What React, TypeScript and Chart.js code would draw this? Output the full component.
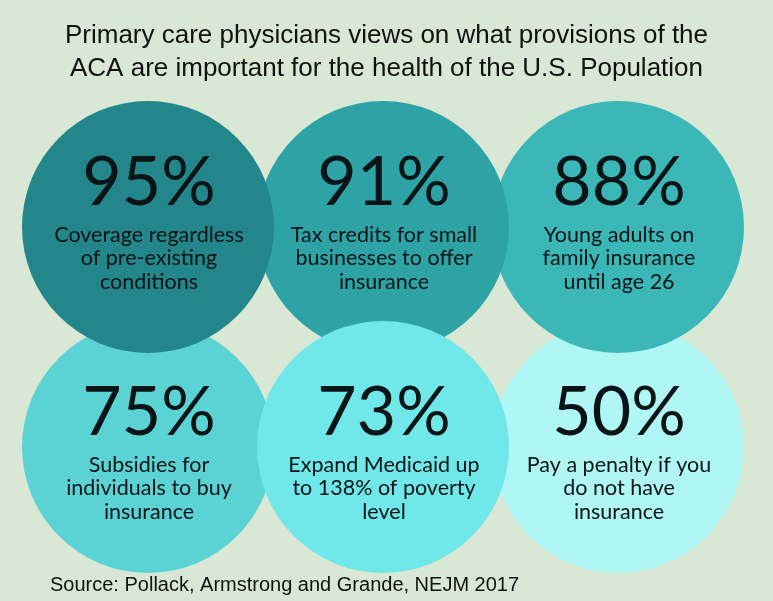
import React, { useEffect, useRef } from 'react';
import { Chart, registerables } from 'chart.js';

Chart.register(...registerables);

const titleLines = [
  'Primary care physicians views on what provisions of the',
  'ACA are important for the health of the U.S. Population',
];
const sourceText = 'Source: Pollack, Armstrong and Grande, NEJM 2017';

const percents = [95, 91, 88, 75, 73, 50];
const provisions = [
  ['Coverage regardless', 'of pre-existing', 'conditions'],
  ['Tax credits for small', 'businesses to offer', 'insurance'],
  ['Young adults on', 'family insurance', 'until age 26'],
  ['Subsidies for', 'individuals to buy', 'insurance'],
  ['Expand Medicaid up', 'to 138% of poverty', 'level'],
  ['Pay a penalty if you', 'do not have', 'insurance'],
];
const gridColumn = [0, 1, 2, 0, 1, 2];
const gridRow = [0, 0, 0, 1, 1, 1];

// styles
const circleColors = ['#23868a', '#2ea3a5', '#3bb7b8', '#5bd3d4', '#70e7e8', '#aff6f4'];
const drawOrder = [5, 2, 3, 1, 0, 4];
const BG = '#d8e8d4';
const TEXT = '#081416';
const CIRCLE_R = 126;

const circleTextPlugin = {
  id: 'circleText',
  beforeDraw(chart: any) {
    const { ctx, width, height } = chart;
    ctx.save();
    ctx.fillStyle = BG;
    ctx.fillRect(0, 0, width, height);
    ctx.restore();
  },
  afterDatasetsDraw(chart: any) {
    const { ctx } = chart;
    const meta = chart.getDatasetMeta(0);
    ctx.save();
    ctx.fillStyle = TEXT;
    ctx.textAlign = 'center';
    ctx.textBaseline = 'alphabetic';
    drawOrder.forEach((idx, k) => {
      const el = meta.data[k];
      if (!el) return;
      const shift = gridRow[idx] * 10;
      const cx = el.x + 1;
      const cy = el.y + shift;
      ctx.font = '400 68px Lato';
      ctx.fillText(percents[idx] + '%', cx, cy - 22);
      ctx.font = '400 21.5px Lato';
      provisions[idx].forEach((line, j) => {
        ctx.fillText(line, cx, cy + 15 + j * 23.5);
      });
    });
    ctx.restore();
  },
};

export default function App() {
  const ref = useRef<HTMLCanvasElement>(null);
  useEffect(() => {
    if (!ref.current) return;
    const chart = new Chart(ref.current, {
      type: 'bubble',
      data: {
        datasets: [
          {
            label: 'Provisions',
            data: drawOrder.map((i) => ({ x: gridColumn[i], y: gridRow[i] })),
            backgroundColor: drawOrder.map((i) => circleColors[i]),
            borderWidth: 0,
            radius: CIRCLE_R,
            clip: false,
          } as any,
        ],
      },
      options: {
        responsive: false,
        animation: false,
        events: [],
        layout: { autoPadding: false, padding: { left: 50, right: 50, top: 0, bottom: 0 } },
        scales: {
          x: { type: 'linear', display: false, min: -0.41702, max: 2.44681 },
          y: { type: 'linear', display: false, reverse: true, min: -0.64545, max: 1.57273 },
        },
        plugins: {
          legend: { display: false },
          tooltip: { enabled: false },
          title: {
            display: true,
            text: titleLines,
            color: '#111',
            font: { family: "'Liberation Sans', Arial, sans-serif", size: 26, weight: 'normal', lineHeight: 1.25 },
            padding: { top: 20, bottom: 0 },
          },
          subtitle: {
            display: true,
            position: 'bottom',
            align: 'start',
            text: sourceText,
            color: '#111',
            font: { family: "'Liberation Sans', Arial, sans-serif", size: 20, weight: 'normal', lineHeight: 1.2 },
            padding: { top: 0, bottom: 4 },
          },
        },
      } as any,
      plugins: [circleTextPlugin],
    });
    return () => chart.destroy();
  }, []);
  return (
    <div style={{ position: 'absolute', left: 0, top: 0, width: 773, height: 601, background: BG }}>
      <canvas ref={ref} width={773} height={601} style={{ display: 'block' }} />
    </div>
  );
}
